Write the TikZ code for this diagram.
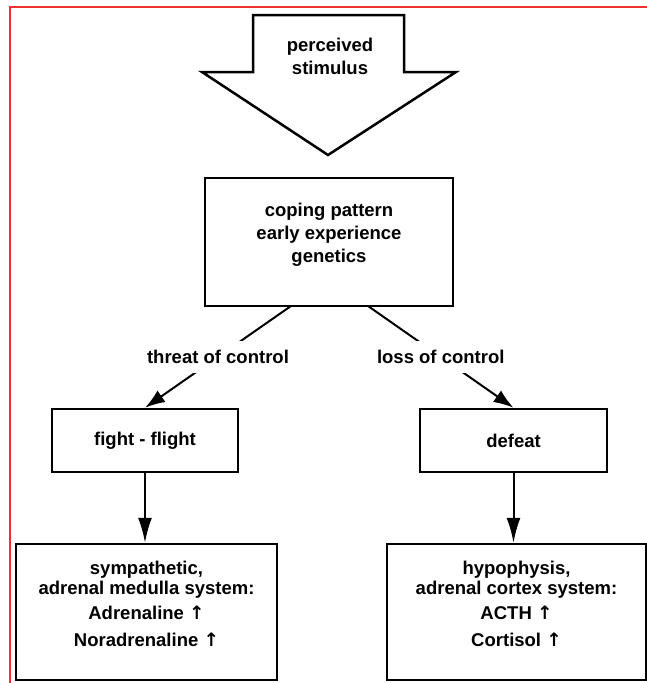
\documentclass[tikz,border=0pt]{standalone}
\usepackage{fontspec}
\newfontfamily\diafont{Liberation Sans}
\newfontfamily\arrowfont{DejaVu Sans}
\newcommand{\upar}{{\arrowfont\bfseries ↑}}
\usetikzlibrary{arrows.meta}
\definecolor{framered}{RGB}{238,48,48}

\begin{document}
\begin{tikzpicture}[x=1pt, y=-1pt,
  font=\diafont\bfseries\fontsize{18.5}{23}\selectfont,
  box/.style={draw, line width=2.5pt, align=center, inner sep=0pt},
  lbl/.style={fill=white, inner xsep=3pt, inner ysep=9pt},
  flow/.style={line width=2pt, -{Latex[length=20pt,width=14pt]}},
  down/.style={line width=2pt, -{Latex[length=25pt,width=14pt]}}]

\useasboundingbox (0,0) rectangle (647,683);

% frame of the original picture
\draw [framered, line width=2pt] (9.5,683) -- (9.5,6.5) -- (647,6.5);

% big arrow on top
\draw [line width=2.5pt, line join=miter] (253,72) -- (253,15) -- (404,15) -- (404,72)
      -- (456,72) -- (328,155) -- (202,72) -- cycle;
\node [align=center] (stim) at (330,56) {perceived\\stimulus};

% boxes
\node [box, minimum width=248pt, minimum height=128pt, text depth=19pt] (coping) at (329,242)
      {coping pattern\\early experience\\genetics};
\node [box, minimum width=186pt, minimum height=63pt] (fight)  at (145,440.5) {fight - flight};
\node [box, minimum width=187pt, minimum height=63pt] (defeat) at (513.5,440.5) {defeat};
\node [box, minimum width=261pt, minimum height=136pt, text depth=17pt] (symp) at (146.5,612)
      {sympathetic,\\[-3pt] adrenal medulla system:\\[2pt] Adrenaline \upar\\[4pt] Noradrenaline \upar};
\node [box, minimum width=259pt, minimum height=136pt, text depth=17pt] (hypo) at (516.5,612)
      {hypophysis,\\[-3pt] adrenal cortex system:\\[2pt] ACTH \upar\\[4pt] Cortisol \upar};

% connectors
\coordinate (c1) at (291,306);
\coordinate (c2) at (368,306);
\draw [flow] (c1) -- node [lbl] (threat) {threat of control} (fight.north);
\draw [flow] (c2) -- node [lbl] (loss) {loss of control} (defeat.north);
\draw [down] (fight.south)  -- (fight.south |- symp.north);
\draw [down] (defeat.south) -- (defeat.south |- hypo.north);

\end{tikzpicture}
\end{document}
